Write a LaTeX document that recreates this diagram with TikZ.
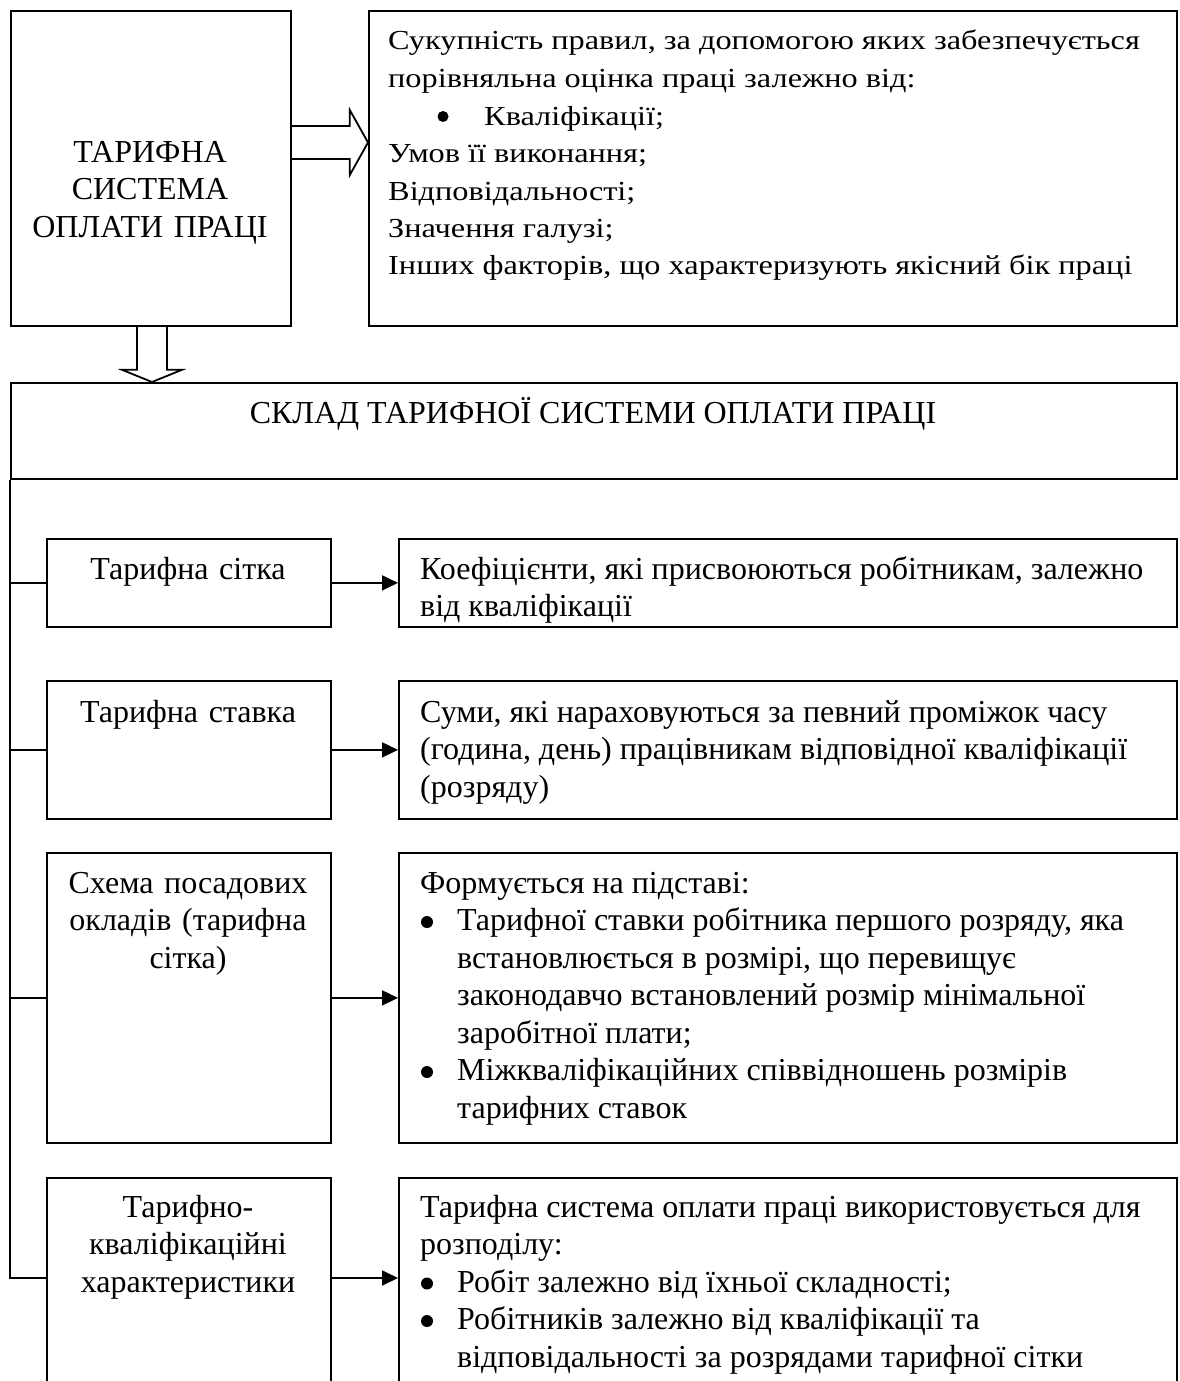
\documentclass[tikz,border=0pt]{standalone}
\usepackage{fontspec}
\setmainfont{Liberation Serif}
\newfontfamily\trfont[FakeStretch=1.175]{Liberation Serif}
\usetikzlibrary{arrows.meta,calc}
\begin{document}
\begin{tikzpicture}[x=1pt,y=-1pt,
  box/.style={draw,line width=1.8pt,inner sep=0pt,anchor=north west},
  ln/.style={line width=1.8pt},
  blk/.style={line width=1.8pt,line join=miter},
  arr/.style={line width=1.8pt,-{Triangle[length=16pt,width=15pt]}},
  dotb/.style={fill=black},
  big/.style={font=\fontsize{32}{37.5}\selectfont},
  small/.style={font=\trfont\fontsize{27.5}{37.5}\selectfont},
  ctext/.style={big,inner sep=0pt,anchor=base,align=center,text width=300pt},
  ltext/.style={big,inner sep=0pt,anchor=base west,align=flush left,text width=760pt}]
\useasboundingbox (0,0) rectangle (1179,1381);
\fill[white] (0,0) rectangle (1179,1381);
\clip (0,0) rectangle (1179,1381);

% top row
\node[box,minimum width=280pt,minimum height=315pt] (tl) at (10,10) {};
\node[box,minimum width=808pt,minimum height=315pt] (tr) at (368,10) {};
\node[ctext] (tlt) at (150,162) {ТАРИФНА\\СИСТЕМА\\ОПЛАТИ ПРАЦІ};
\node[small,inner sep=0pt,anchor=base west,align=flush left,text width=785pt] (trt) at (388,50)
 {Сукупність правил, за допомогою яких забезпечується\\
  порівняльна оцінка праці залежно від:\\
  \hspace*{96pt}Кваліфікації;\\
  Умов її виконання;\\
  Відповідальності;\\
  Значення галузі;\\
  Інших факторів, що характеризують якісний бік праці};
\fill[dotb] (443,116.5) circle (5.5);

% block arrow right
\draw[blk] ($(tl.north east)+(0,116)$) -- ++(58,0) -- ++(0,-16)
  -- ($(tr.north west)+(0,132.5)$) -- ($(tl.north east)+(58,165)$) -- ++(0,-16)
  -- ($(tl.north east)+(0,149)$);

% big header box
\node[box,minimum width=1166pt,minimum height=96pt] (bigb) at (10,382) {};
\node[big,inner sep=0pt,anchor=base] (bigt) at (593,423) {СКЛАД ТАРИФНОЇ СИСТЕМИ ОПЛАТИ ПРАЦІ};

% block arrow down
\draw[blk] ($(tl.south west)+(127,0)$) -- ++(0,43) -- ++(-15,0)
  -- ($(bigb.north west)+(142,0)$) -- ($(tl.south west)+(172,43)$) -- ++(-15,0)
  -- ($(tl.south west)+(157,0)$);

% left boxes
\node[box,minimum width=284pt,minimum height=88pt] (l1) at (46,538) {};
\node[box,minimum width=284pt,minimum height=138pt] (l2) at (46,680) {};
\node[box,minimum width=284pt,minimum height=290pt] (l3) at (46,852) {};
\node[box,minimum width=284pt,minimum height=240pt] (l4) at (46,1177) {};
% right boxes
\node[box,minimum width=778pt,minimum height=88pt] (r1) at (398,538) {};
\node[box,minimum width=778pt,minimum height=138pt] (r2) at (398,680) {};
\node[box,minimum width=778pt,minimum height=290pt] (r3) at (398,852) {};
\node[box,minimum width=778pt,minimum height=240pt] (r4) at (398,1177) {};

% left texts
\node[ctext] (l1t) at (188,579) {Тарифна сітка};
\node[ctext] (l2t) at (188,722) {Тарифна ставка};
\node[ctext] (l3t) at (188,893) {Схема посадових\\окладів (тарифна\\сітка)};
\node[ctext] (l4t) at (188,1217) {Тарифно-\\кваліфікаційні\\характеристики};

% right texts
\node[ltext] (r1t) at (420,579) {Коефіцієнти, які присвоюються робітникам, залежно\\від кваліфікації};
\node[ltext] (r2t) at (420,722) {Суми, які нараховуються за певний проміжок часу\\(година, день) працівникам відповідної кваліфікації\\(розряду)};
\node[ltext] (r3t) at (420,893) {Формується на підставі:\\
  \hspace*{37pt}Тарифної ставки робітника першого розряду, яка\\
  \hspace*{37pt}встановлюється в розмірі, що перевищує\\
  \hspace*{37pt}законодавчо встановлений розмір мінімальної\\
  \hspace*{37pt}заробітної плати;\\
  \hspace*{37pt}Міжкваліфікаційних співвідношень розмірів\\
  \hspace*{37pt}тарифних ставок};
\node[ltext] (r4t) at (420,1217) {Тарифна система оплати праці використовується для\\
  розподілу:\\
  \hspace*{37pt}Робіт залежно від їхньої складності;\\
  \hspace*{37pt}Робітників залежно від кваліфікації та\\
  \hspace*{37pt}відповідальності за розрядами тарифної сітки};
% bullets
\fill[dotb] (427,922) circle (6);
\fill[dotb] (427,1072) circle (6);
\fill[dotb] (427,1283.5) circle (6);
\fill[dotb] (427,1321) circle (6);

% trunk and branches
\coordinate (y4) at (0,1278);
\draw[ln] (bigb.south west) -- (bigb.south west |- y4) -- (l4.west |- y4);
\draw[ln] (bigb.south west |- l1.west) -- (l1.west);
\draw[ln] (bigb.south west |- l2.west) -- (l2.west);
\draw[ln] (bigb.south west |- l3.west) -- (l3.west);

% arrows
\draw[arr] (l1.east) -- (r1.west);
\draw[arr] (l2.east) -- (r2.west);
\draw[arr] (l3.east) -- (r3.west);
\draw[arr] (l4.east |- y4) -- (r4.west |- y4);
\end{tikzpicture}
\end{document}
